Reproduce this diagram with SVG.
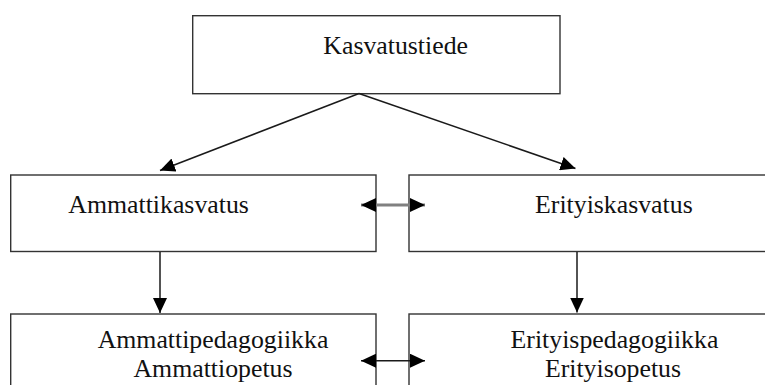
<svg xmlns="http://www.w3.org/2000/svg" width="765" height="385" viewBox="0 0 765 385">
  <style>
    .box { fill: #ffffff; stroke: #333333; stroke-width: 1.4; }
    .lbl { font-family: "Liberation Serif", "Times New Roman", serif; font-size: 25.8px; fill: #111111; }
    .conn { stroke: #1a1a1a; stroke-width: 1.5; fill: none; }
    .gray { stroke: #808080; stroke-width: 3; fill: none; }
  </style>
  <defs>
    <marker id="ah" markerUnits="userSpaceOnUse" markerWidth="15" markerHeight="14" refX="15" refY="7" orient="auto-start-reverse">
      <path d="M0,0 L15,7 L0,14 z" fill="#000000"/>
    </marker>
  </defs>
  <rect width="765" height="385" fill="#ffffff"/>

  <g id="node-kasvatustiede">
    <rect class="box" x="192.7" y="15.7" width="367.3" height="78"/>
    <text class="lbl" x="323.3" y="54.3">Kasvatustiede</text>
  </g>

  <g id="node-ammattikasvatus">
    <rect class="box" x="10.7" y="175" width="365.3" height="76.5"/>
    <text class="lbl" x="68.3" y="213.3">Ammattikasvatus</text>
  </g>

  <g id="node-erityiskasvatus">
    <rect class="box" x="409" y="175" width="370" height="76.5"/>
    <text class="lbl" x="692.7" y="213.3" text-anchor="end">Erityiskasvatus</text>
  </g>

  <g id="node-ammattipedagogiikka">
    <rect class="box" x="10.7" y="314" width="365.3" height="90"/>
    <text class="lbl" x="213" y="348" text-anchor="middle">Ammattipedagogiikka</text>
    <text class="lbl" x="213" y="376.7" text-anchor="middle">Ammattiopetus</text>
  </g>

  <g id="node-erityispedagogiikka">
    <rect class="box" x="409" y="314" width="370" height="90"/>
    <text class="lbl" x="614.5" y="348" text-anchor="middle">Erityispedagogiikka</text>
    <text class="lbl" x="613" y="376.7" text-anchor="middle">Erityisopetus</text>
  </g>

  <g id="connectors">
    <line class="conn" x1="359" y1="93.5" x2="160" y2="170.5" marker-end="url(#ah)"/>
    <line class="conn" x1="359" y1="93.5" x2="575.5" y2="168.5" marker-end="url(#ah)"/>
    <line class="gray" x1="361" y1="205" x2="425" y2="205" marker-start="url(#ah)" marker-end="url(#ah)"/>
    <line class="conn" x1="160" y1="252" x2="160" y2="313" marker-end="url(#ah)"/>
    <line class="conn" x1="577" y1="252" x2="577" y2="312.5" marker-end="url(#ah)"/>
    <line class="conn" x1="361" y1="360.7" x2="425" y2="360.7" marker-start="url(#ah)" marker-end="url(#ah)"/>
  </g>
</svg>
